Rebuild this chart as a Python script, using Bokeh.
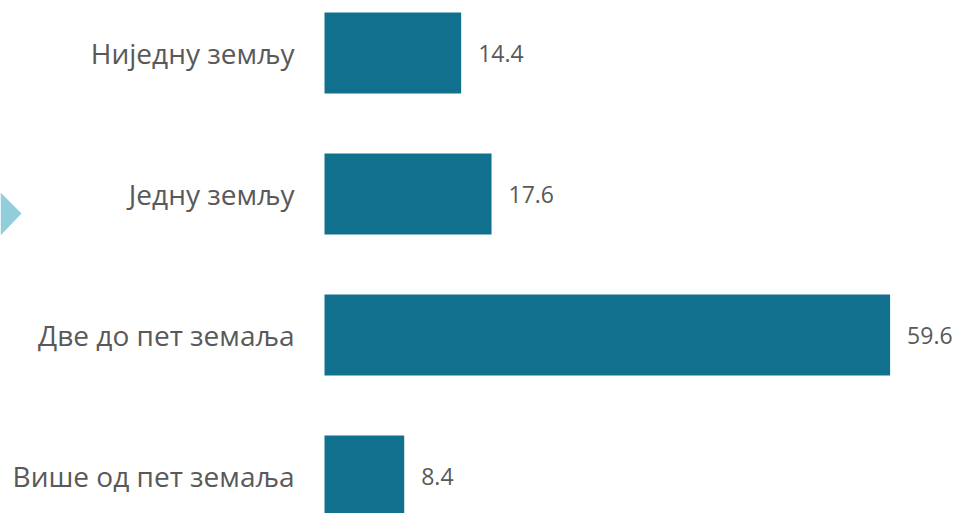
from bokeh.plotting import figure
from bokeh.models import ColumnDataSource, Range1d
from bokeh.core.properties import value
from bokeh.embed import file_html
from bokeh.resources import INLINE

categories = ["Ниједну земљу", "Једну земљу", "Две до пет земаља", "Више од пет земаља"]
values = [14.4, 17.6, 59.6, 8.4]
value_labels = ["14.4", "17.6", "59.6", "8.4"]

W, H = 959, 513
PX = 9.49            # pixels per unit on x
ZERO_PX = 324        # where value 0 sits in the frame
BAND = 141.0         # pixels per category
TOP_OFF = 52.5       # pixels from frame top to first category centre

x_start = -ZERO_PX / PX
x_end = x_start + W / PX
y_top = -TOP_OFF / BAND
y_bottom = y_top + H / BAND

pos = list(range(len(categories)))
src = ColumnDataSource(dict(y=pos, v=values, cat=categories, lab=value_labels,
                            zero=[0] * len(pos)))

p = figure(width=W, height=H, output_backend="svg", toolbar_location=None,
           x_range=Range1d(x_start, x_end), y_range=Range1d(y_bottom, y_top),
           min_border=0, outline_line_color=None, background_fill_color="white",
           border_fill_color="white")
p.axis.visible = False
p.grid.visible = False

p.hbar(y="y", left=0, right="v", height=81 / BAND, source=src,
       fill_color="#12708F", line_color=None)

p.text(x="zero", y="y", text="cat", source=src, x_offset=-30,
       text_align="right", text_baseline="middle",
       text_font=value("Open Sans"), text_font_size="28px", text_color="#595959")

p.text(x="v", y="y", text="lab", source=src, x_offset=17,
       text_align="left", text_baseline="middle",
       text_font=value("Open Sans"), text_font_size="23px", text_color="#595959")

# decorative light-blue arrow tip at the left edge
def fx(px):
    return x_start + px / PX

def fy(py):
    return y_top + py / BAND

p.patch(x=[fx(0), fx(21), fx(0)], y=[fy(192), fy(213), fy(235)],
        fill_color="#92CDDC", line_color=None)

open("out.html", "w").write(file_html(p, INLINE))
